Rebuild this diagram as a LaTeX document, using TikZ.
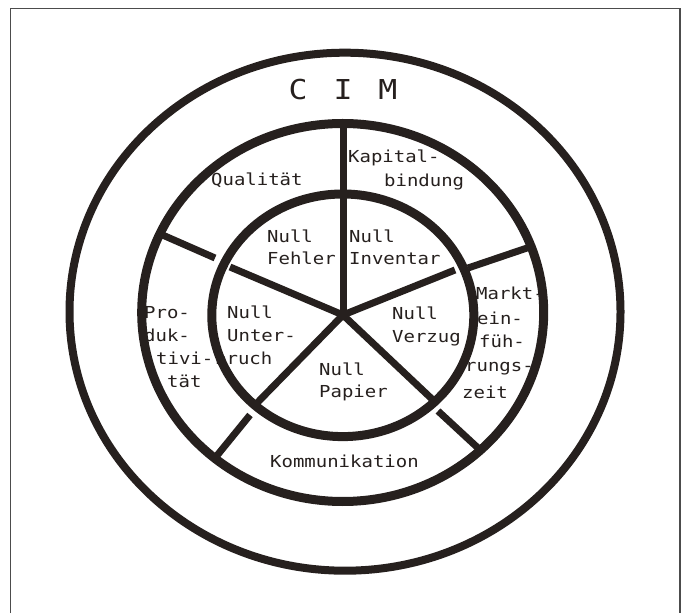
\documentclass[tikz,border=0pt]{standalone}
\usepackage{fontspec}
\usepackage{tikz}
\usetikzlibrary{calc}

\newfontfamily\plotfont{DejaVu Sans Mono}[FakeStretch=1.15]
\definecolor{ink}{RGB}{38,32,30}

\begin{document}
\begin{tikzpicture}[
    x=1pt, y=1pt,
    frame/.style={draw=black!70, line width=1.3pt},
    ring/.style={draw=ink, line width=#1},
    ring/.default=9pt,
    spoke/.style={draw=ink, line width=7pt, line cap=butt},
    lbl/.style={
        anchor=base west, inner sep=0pt, text=ink,
        font=\plotfont\fontsize{16.5}{23}\selectfont
    },
    title/.style={
        anchor=base, inner sep=0pt, text=ink,
        font=\plotfont\fontsize{27.4}{30}\selectfont
    }
]
\useasboundingbox (0,0) rectangle (687,613);

% Frame (open at the bottom)
\draw[frame] (10.7,0) -- (10.7,604.7) -- (680,604.7) -- (680,0);

% Title
\node[title] (cim) at (343,513) {C\hspace{26pt}I\hspace{26pt}M};

% Outer sectors
\node[lbl] (qual) at (211,427) {Qualität};
\node[lbl] (kap1) at (348,450) {Kapital-};
\node[lbl] (kap2) at (384,426) {bindung};
\node[lbl] (prod1) at (144,294) {Pro-};
\node[lbl] (prod2) at (144,271) {duk-};
\node[lbl] (prod3) at (156,248) {tivi-};
\node[lbl] (prod4) at (167,225) {tät};
\node[lbl] (markt1) at (476,313) {Markt-};
\node[lbl] (markt2) at (477,288) {ein-};
\node[lbl] (markt3) at (479,265) {füh-};
\node[lbl] (markt4) at (465,241) {rungs-};
\node[lbl] (markt5) at (462,214) {zeit};
\node[lbl] (komm) at (270,146) {Kommunikation};

% Inner sectors
\node[lbl] (fehl1) at (267,370) {Null};
\node[lbl] (fehl2) at (267,348) {Fehler};
\node[lbl] (inv1) at (349,370) {Null};
\node[lbl] (inv2) at (349,348) {Inventar};
\node[lbl] (unt1) at (227,294) {Null};
\node[lbl] (unt2) at (227,271) {Unter-};
\node[lbl] (unt3) at (215,248) {bruch};
\node[lbl] (verz1) at (392,293) {Null};
\node[lbl] (verz2) at (392,270) {Verzug};
\node[lbl] (pap1) at (319,237) {Null};
\node[lbl] (pap2) at (319,215) {Papier};

% Rings
\draw[ring=8pt] (345,301.3) ellipse [x radius=275.5pt, y radius=259pt];
\draw[ring] (342.7,300.5) ellipse [x radius=201pt, y radius=189pt];
\draw[ring] (342.8,297.7) ellipse [x radius=131pt, y radius=121.3pt];

% Spokes: centre to inner ring
\coordinate (c) at (343,298);
\coordinate (top) at (343,490);
\coordinate (ul) at (230,346);
\coordinate (ur) at (455,343);
\coordinate (ll) at (257,210);
\coordinate (lr) at (433,213);
\draw[spoke] (c) -- (top);
\draw[spoke] (c) -- (ul);
\draw[spoke] (c) -- (ur);
\draw[spoke] (c) -- (ll);
\draw[spoke] (c) -- (lr);
\fill[ink] (c) circle (3.5pt);

% Spokes: between inner and middle ring
\coordinate (ula) at (158,380);
\coordinate (ulb) at (215,355);
\coordinate (ura) at (468,345);
\coordinate (urb) at (530,366);
\coordinate (lra) at (438,202);
\coordinate (lrb) at (478,165);
\coordinate (lla) at (250,198);
\coordinate (llb) at (215,155);
\draw[spoke] (ula) -- (ulb);
\draw[spoke] (ura) -- (urb);
\draw[spoke] (lra) -- (lrb);
\draw[spoke] (lla) -- (llb);

\end{tikzpicture}
\end{document}
